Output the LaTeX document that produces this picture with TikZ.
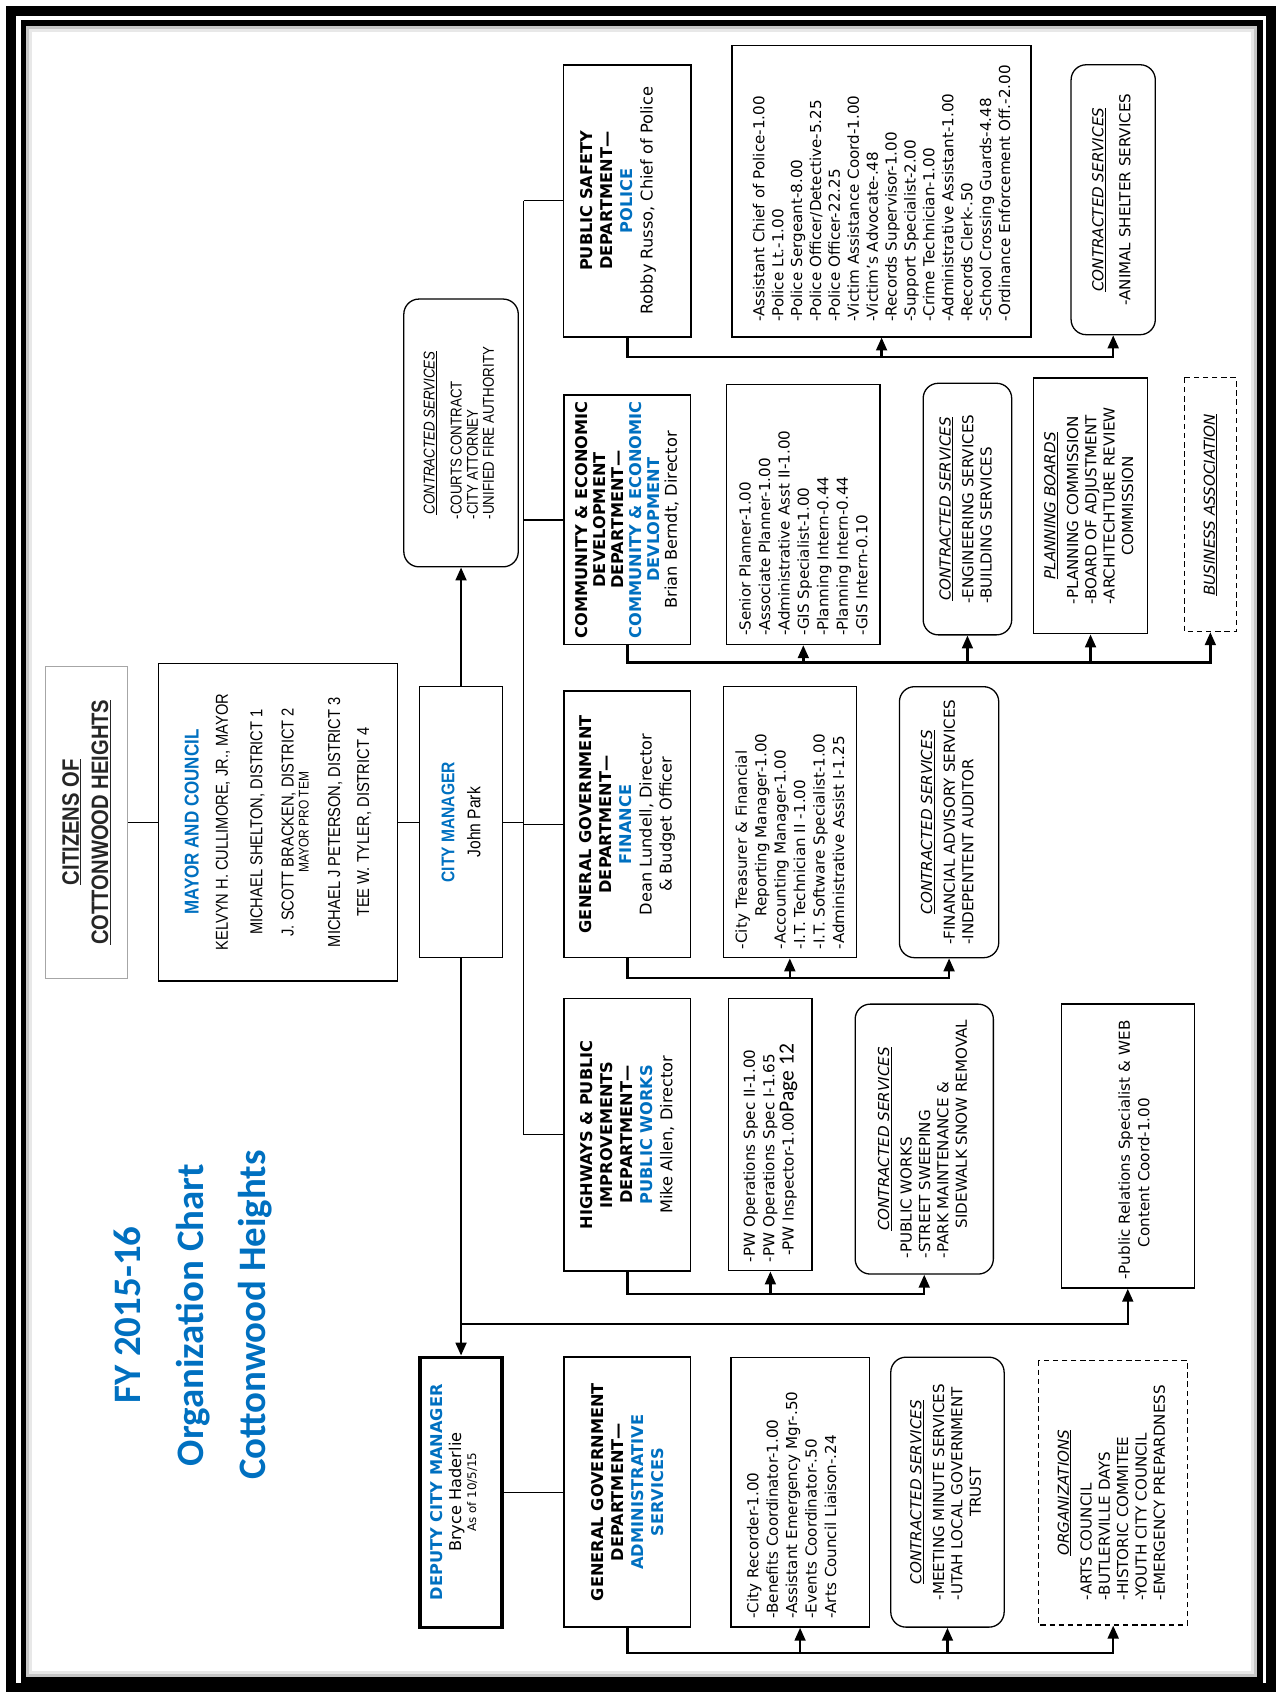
\documentclass[tikz,border=0pt]{standalone}
\usepackage{fontspec}
\setmainfont{DejaVu Sans}
\newfontfamily\narrowfont[FakeStretch=0.85]{Liberation Sans}
\newfontfamily\titlefont{Carlito}
\usetikzlibrary{arrows.meta, calc, positioning}

\definecolor{chartblue}{HTML}{0070C0}
\newcommand{\hdr}[1]{\textit{\underline{#1}}}
\newcommand{\conlist}[3][4pt]{\begin{tabular}{@{}l@{}}\multicolumn{1}{@{}c@{}}{\hdr{#2}}\\[#1]#3\end{tabular}}
\tikzset{sz/.style 2 args={minimum width=#1pt, minimum height=#2pt}}

\begin{document}
\begin{tikzpicture}[x=1pt, y=1pt,
  thinline/.style={line width=1.2pt},
  link/.style={line width=2.2pt},
  arr/.style={link, -{Triangle[length=12pt, width=10pt]}},
  headbox/.style={draw, line width=1.2pt, align=center},
  dept/.style={draw, line width=1.4pt, align=center, inner sep=1pt,
    font=\fontsize{15}{18.5}\selectfont\bfseries},
  staff/.style={draw, line width=1.2pt, align=left, inner xsep=8pt,
    font=\fontsize{14}{18}\selectfont},
  listbox/.style={draw, line width=1.2pt, align=center,
    font=\fontsize{14}{17}\selectfont},
  con/.style={listbox, rounded corners=14pt},
  dashbox/.style={listbox, line width=1.1pt, dash pattern=on 5pt off 3.5pt}]

  \useasboundingbox (0,0) rectangle (1182,1568);
  % page frame
  \draw[line width=9pt] (10,5) rectangle (1177,1558);
  \draw[line width=5pt] (21.5,12) rectangle (1167,1546.5);
  \draw[gray!45, line width=3pt] (25.5,16) rectangle (1163,1542.5);
  \draw[gray!18, line width=3pt] (28.5,19) rectangle (1160,1539.5);

  \begin{scope}[shift={(1182,0)}, rotate=90, transform shape]
  % title and the top of the chart
  \node[font=\titlefont\bfseries\fontsize{36}{58}\selectfont, text=chartblue, align=center]
    (title) at (350,1003) {FY 2015-16\\Organization Chart\\Cottonwood Heights};
  \node[headbox, draw=gray!70, sz={289}{76}, text=black!85,
    font=\narrowfont\bfseries\fontsize{22}{27}\selectfont]
    (citizens) at (806.5,1102) {\underline{CITIZENS OF}\\\underline{COTTONWOOD HEIGHTS}};
  \node[headbox, sz={294}{221}, font=\narrowfont\fontsize{16}{29}\selectfont]
    (mayor) at (806.5,924.5) {{\fontsize{18.5}{18.5}\selectfont\bfseries\color{chartblue}MAYOR AND COUNCIL}\\[-2pt]
      KELVYN H. CULLIMORE, JR., MAYOR\\[3pt]
      MICHAEL SHELTON, DISTRICT 1\\
      J. SCOTT BRACKEN, DISTRICT 2\\[-15pt]
      {\fontsize{13}{13}\selectfont MAYOR PRO TEM}\\
      MICHAEL J PETERSON, DISTRICT 3\\[-2pt]
      TEE W. TYLER, DISTRICT 4};
  \node[headbox, sz={251}{77}, font=\narrowfont\fontsize{17}{24}\selectfont]
    (cm) at (806.5,755) {{\bfseries\color{chartblue}CITY MANAGER}\\John Park};
  \node[con, sz={248}{106}, font=\narrowfont\fontsize{14.5}{15}\selectfont]
    (topcon) at (1167,755) {\conlist[10pt]{CONTRACTED SERVICES}{-COURTS CONTRACT\\-CITY ATTORNEY\\-UNIFIED FIRE AUTHORITY}};

  % departments
  \node[dept, sz={252}{118}] (ps) at (1382,601)
    {PUBLIC SAFETY\\DEPARTMENT—\\{\color{chartblue}POLICE}\\{\mdseries Robby Russo, Chief of Police}\rule[-20pt]{0pt}{20pt}};
  \node[dept, sz={231}{117}, font=\fontsize{15}{16.5}\selectfont\bfseries] (ced) at (1086.5,601)
    {COMMUNITY \& ECONOMIC\\DEVELOPMENT\\DEPARTMENT—\\{\color{chartblue}COMMUNITY \& ECONOMIC}\\{\color{chartblue}DEVLOPMENT}\\{\mdseries Brian Berndt, Director}};
  \node[dept, sz={247}{117}] (fin) at (804.5,601)
    {GENERAL GOVERNMENT\\DEPARTMENT—\\{\color{chartblue}FINANCE}\\{\mdseries Dean Lundell, Director}\\{\mdseries \& Budget Officer}};
  \node[dept, sz={252}{117}] (pw) at (517,601)
    {HIGHWAYS \& PUBLIC\\IMPROVEMENTS\\DEPARTMENT—\\{\color{chartblue}PUBLIC WORKS}\\{\mdseries Mike Allen, Director}};
  \node[dept, line width=3pt, sz={250}{76}, font=\fontsize{15}{17}\selectfont] (deputy) at (186,755)
    {{\bfseries\color{chartblue}DEPUTY CITY MANAGER}\\Bryce Haderlie\\[-3pt]{\fontsize{11}{11}\selectfont As of 10/5/15}\rule[-14pt]{0pt}{14pt}};
  \node[dept, sz={250}{117}] (admin) at (186,601)
    {GENERAL GOVERNMENT\\DEPARTMENT—\\{\color{chartblue}ADMINISTRATIVE}\\{\color{chartblue}SERVICES}};

  % police
  \node[staff, inner xsep=14pt, text width=242pt, minimum height=277pt,
    font=\fontsize{14}{17.5}\selectfont] (psstaff) at (1391,365.5)
    {-Assistant Chief of Police-1.00\\-Police Lt.-1.00\\-Police Sergeant-8.00\\-Police Officer/Detective-5.25\\
     -Police Officer-22.25\\-Victim Assistance Coord-1.00\\-Victim's Advocate-.48\\-Records Supervisor-1.00\\
     -Support Specialist-2.00\\-Crime Technician-1.00\\-Administrative Assistant-1.00\\-Records Clerk-.50\\
     -School Crossing Guards-4.48\\-Ordinance Enforcement Off.-2.00};
  \node[con, sz={250}{78}] (pscon) at (1383,151) {\conlist[8pt]{CONTRACTED SERVICES}{-ANIMAL SHELTER SERVICES}};

  % community and economic development
  \node[staff, text width=225pt, minimum height=142pt] (cedstaff) at (1091.5,438)
    {-Senior Planner-1.00\\-Associate Planner-1.00\\-Administrative Asst II-1.00\\-GIS Specialist-1.00\\
     -Planning Intern-0.44\\-Planning Intern-0.44\\-GIS Intern-0.10};
  \node[con, sz={233}{82}] (cedcon) at (1096.5,286) {\conlist{CONTRACTED SERVICES}{-ENGINEERING SERVICES\\-BUILDING SERVICES}};
  \node[listbox, sz={237}{106}] (boards) at (1099.5,172)
    {\conlist{PLANNING BOARDS}{-PLANNING COMMISSION\\-BOARD OF ADJUSTMENT\\-ARCHITECHTURE REVIEW\\\multicolumn{1}{@{}c@{}}{COMMISSION}}};
  \node[dashbox, sz={235}{48}] (busass) at (1100.5,61) {\hdr{BUSINESS ASSOCIATION}};

  % finance
  \node[staff, text width=235pt, minimum height=123pt] (finstaff) at (806.5,450.5)
    {-City Treasurer \& Financial\\\hspace*{30pt}Reporting Manager-1.00\\-Accounting Manager-1.00\\
     -I.T. Technician II -1.00\\-I.T. Software Specialist-1.00\\-Administrative Assist I-1.25};
  \node[con, sz={251}{92}] (fincon) at (806.5,303) {\conlist{CONTRACTED SERVICES}{-FINANCIAL ADVISORY SERVICES\\-INDEPENTENT AUDITOR}};

  % public works
  \node[staff, text width=236pt, minimum height=77pt] (pwstaff) at (517,468.5)
    {-PW Operations Spec II-1.00\\-PW Operations Spec I-1.65\\\hspace*{6pt}-PW Inspector-1.00{\titlefont\fontsize{20}{18}\selectfont Page 12}};
  \node[con, sz={250}{128}] (pwcon) at (513,326)
    {\conlist{CONTRACTED SERVICES}{-PUBLIC WORKS\\-STREET SWEEPING\\-PARK MAINTENANCE \&\\\hspace*{28pt}SIDEWALK SNOW REMOVAL}};
  \node[staff, text width=247pt, minimum height=123pt] (pr) at (506.5,137.5)
    {\rule{0pt}{22pt}-Public Relations Specialist \& WEB\\\hspace*{30pt}Content Coord-1.00};

  % administrative services
  \node[staff, text width=234pt, minimum height=128pt] (adstaff) at (186,441)
    {-City Recorder-1.00\\-Benefits Coordinator-1.00\\-Assistant Emergency Mgr-.50\\-Events Coordinator-.50\\-Arts Council Liaison-.24\rule[-16pt]{0pt}{16pt}};
  \node[con, sz={250}{105}] (adcon) at (186,304.5)
    {\conlist{CONTRACTED SERVICES}{-MEETING MINUTE SERVICES\\-UTAH LOCAL GOVERNMENT\\\multicolumn{1}{@{}c@{}}{TRUST}}};
  \node[dashbox, sz={245}{138}] (orgs) at (185.5,151)
    {\conlist{ORGANIZATIONS}{-ARTS COUNCIL\\-BUTLERVILLE DAYS\\-HISTORIC COMMITEE\\-YOUTH CITY COUNCIL\\-EMERGENCY PREPARDNESS}};

  % chain of command
  \coordinate (bus) at (0,697);
  \draw[thinline] (citizens) -- (mayor);
  \draw[thinline] (mayor) -- (cm);
  \draw[thinline] (cm.south) -- (cm.south |- bus);
  \draw[thinline] (pw.north |- bus) -- (ps.north |- bus);
  \foreach \d in {ps, ced, fin, pw} \draw[thinline] (\d.north |- bus) -- (\d.north);
  \draw[arr] (cm.east) -- (topcon.west);
  \draw[arr] (cm.west) -- (deputy.east);
  \draw[arr] ($(deputy.east)+(29,0)$) |- (pr.west);
  \draw[thinline] (deputy) -- (admin);

  % rails under each department
  \draw[arr] (ps.west) -- ++(-18,0) coordinate (psrail) |- (pscon.west);
  \draw[arr] (psrail |- psstaff.west) -- (psstaff.west);
  \draw[arr] (ced.west) -- ++(-16,0) coordinate (cedrail) |- (busass.west);
  \foreach \b in {cedstaff, cedcon, boards} \draw[arr] (cedrail |- \b.west) -- (\b.west);
  \draw[arr] (fin.west) -- ++(-18,0) coordinate (finrail) |- (fincon.west);
  \draw[arr] (finrail |- finstaff.west) -- (finstaff.west);
  \draw[arr] (pw.west) -- ++(-21,0) coordinate (pwrail) |- (pwcon.west);
  \draw[arr] (pwrail |- pwstaff.west) -- (pwstaff.west);
  \draw[arr] (admin.west) -- ++(-23,0) coordinate (adrail) |- (orgs.west);
  \foreach \b in {adstaff, adcon} \draw[arr] (adrail |- \b.west) -- (\b.west);
  \end{scope}
\end{tikzpicture}
\end{document}
